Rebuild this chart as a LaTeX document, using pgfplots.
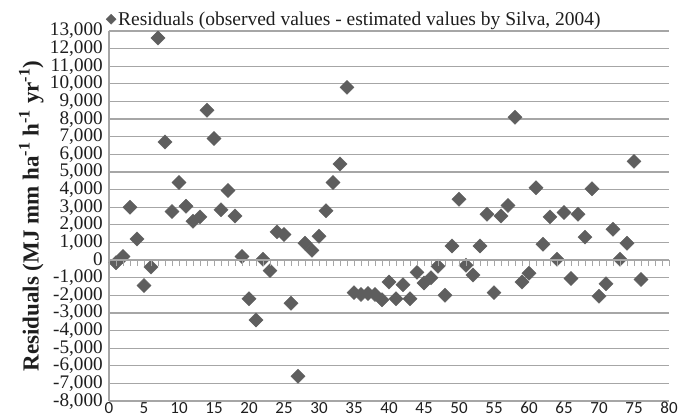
\documentclass[border=0pt]{standalone}
\usepackage{fontspec}
\setmainfont{Liberation Serif}
\newfontfamily\carlito{Carlito}
\usepackage{pgfplots}
\pgfplotsset{compat=1.18}
\definecolor{gridgray}{HTML}{A6A6A6}
\definecolor{markgray}{HTML}{5E5E5E}
\definecolor{txt}{HTML}{1E1E1E}
\begin{document}
\begin{tikzpicture}
\begin{axis}[
  at={(0,0)}, anchor=south west,
  width=560bp, height=370bp, scale only axis,
  xmin=0, xmax=80, ymin=-8000, ymax=13000,
  xtick={0,5,...,80}, ytick={-8000,-7000,...,13000},
  scaled y ticks=false,
  yticklabel={\pgfmathprintnumber[fixed,precision=0,1000 sep={,}]{\tick}},
  axis y line*=left, axis x line*=bottom,
  every outer x axis line/.append style={-},
  every outer y axis line/.append style={-},
  axis line style={gridgray, line width=1.2bp},
  ymajorgrids, grid style={gridgray, line width=1.2bp},
  major tick length=0pt,
  /pgf/number format/assume math mode=true,
  /pgf/number format/1000 sep={,},
  yticklabel style={font=\fontsize{19.2bp}{19.2bp}\selectfont, text=txt, inner ysep=0pt, inner xsep=3bp, xshift=-3bp, text height=12.5bp, text depth=2.5bp},
  xticklabel style={font=\carlito\fontsize{17bp}{17bp}\selectfont, text=txt, inner ysep=1pt},
  ylabel={\textbf{Residuals (MJ mm ha\textsuperscript{-1} h\textsuperscript{-1} yr\textsuperscript{-1})}},
  ylabel style={font=\fontsize{23bp}{23bp}\selectfont, text=txt},
  legend style={at={(0,1)}, anchor=south west, draw=none, fill=none,
    font=\fontsize{19.5bp}{19.5bp}\selectfont, text=txt, inner sep=0pt, xshift=-3bp, yshift=2bp},
  legend image code/.code={\draw[mark=square*, mark size=3.5bp, mark options={rotate=45, fill=markgray, draw=markgray}] plot coordinates {(0.2cm,0cm)};},
  clip=false,
]
\addplot[only marks, mark=square*, mark size=5bp, mark options={rotate=45, fill=markgray, draw=markgray}] table {
x y
1 -150
2 200
3 3000
4 1200
5 -1450
6 -400
7 12600
8 6700
9 2750
10 4400
11 3050
12 2200
13 2450
14 8500
15 6900
16 2850
17 3950
18 2500
19 200
20 -2200
21 -3400
22 50
23 -600
24 1600
25 1450
26 -2450
27 -6600
28 950
29 550
30 1350
31 2800
32 4400
33 5450
34 9800
35 -1850
36 -1950
37 -1900
38 -1950
39 -2250
40 -1250
41 -2200
42 -1400
43 -2200
44 -700
45 -1300
46 -1000
47 -350
48 -2000
49 800
50 3450
51 -300
52 -850
53 800
54 2600
55 -1850
56 2500
57 3100
58 8100
59 -1250
60 -750
61 4100
62 900
63 2450
64 50
65 2700
66 -1050
67 2600
68 1300
69 4050
70 -2050
71 -1350
72 1750
73 50
74 950
75 5600
76 -1100
};
\addlegendentry{Residuals (observed values - estimated values by Silva, 2004)}
\end{axis}
\begin{axis}[
  at={(0,0)}, anchor=south west,
  width=560bp, height=370bp, scale only axis,
  xmin=0, xmax=80, ymin=-8000, ymax=13000,
  axis x line=middle, axis y line=none,
  every inner x axis line/.append style={-},
  axis line style={gridgray, line width=1.2bp},
  xtick={0,1,...,80}, xticklabels={}, ytick=\empty,
  major tick length=6bp, tick align=outside,
  tick style={gridgray, line width=1bp},
]
\addplot[draw=none] coordinates {(0,0)};
\end{axis}
\pgfresetboundingbox
\path (-109bp,-18bp) rectangle (583bp,401bp);
\end{tikzpicture}
\end{document}
